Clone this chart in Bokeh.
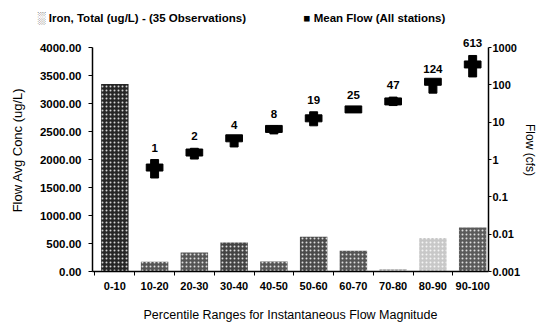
from bokeh.plotting import figure
from bokeh.models import (Range1d, LogScale, LogAxis, FixedTicker, NumeralTickFormatter,
                          CustomJSTickFormatter, ColumnDataSource)
from bokeh.core.properties import value
from bokeh.embed import file_html
from bokeh.resources import INLINE

# ---- data ----
categories = ["0-10", "10-20", "20-30", "30-40", "40-50", "50-60", "60-70", "70-80", "80-90", "90-100"]
iron_conc = [3350, 175, 340, 520, 180, 620, 370, 45, 600, 785]          # ug/L
flow_categories = ["10-20", "20-30", "30-40", "40-50", "50-60", "60-70", "70-80", "80-90", "90-100"]
flow_mean = [1, 2, 4, 8, 19, 25, 47, 124, 613]                           # cfs (labels / top of marker)
flow_low = [0.32, 1.03, 2.17, 4.85, 8.0, 18.6, 27.9, 60, 163]             # bottom of marker
flow_mid = [0.61, 1.54, 3.7, 6.6, 12.7, 22, 36, 121, 352]                 # cross bar of marker
left_ticks = [0, 500, 1000, 1500, 2000, 2500, 3000, 3500, 4000]
right_ticks = [0.001, 0.01, 0.1, 1, 10, 100, 1000]
iron_label = "Iron, Total (ug/L) - (35 Observations)"
flow_label = "Mean Flow (All stations)"

# ---- styles ----
FONT = "Liberation Sans"
bar_fill = ["#262626", "#555555", "#555555", "#444444", "#555555", "#4a4a4a",
            "#555555", "#bbbbbb", "#c8c8c8", "#5a5a5a"]

xpos = [categories.index(c) for c in categories]
flow_x = [categories.index(c) for c in flow_categories]

p = figure(width=540, height=324, output_backend="svg", toolbar_location=None,
           x_range=Range1d(-0.562, 9.398), y_range=Range1d(0, 4340),
           min_border_left=92, min_border_right=49, min_border_top=28, min_border_bottom=52)
p.outline_line_color = None
p.xgrid.visible = False
p.ygrid.visible = False

p.extra_y_ranges = {"flow": Range1d(0.001, 3236)}
p.extra_y_scales = {"flow": LogScale()}

src = ColumnDataSource(dict(x=xpos, top=iron_conc, fill=bar_fill))
p.vbar(x="x", top="top", bottom=0, width=0.69, source=src, fill_color="fill",
       line_color=None, hatch_pattern="dot", hatch_color="white",
       hatch_scale=4, hatch_weight=1.3, hatch_alpha=0.8)

p.vbar(x=flow_x, bottom=flow_low, top=flow_mean, width=0.2, color="black",
       y_range_name="flow")
p.rect(x=flow_x, y=flow_mid, width=0.42, height=7, height_units="screen",
       color="black", y_range_name="flow")
p.text(x=flow_x, y=flow_mean, text=[str(v) for v in flow_mean], y_range_name="flow",
       text_align="center", text_baseline="middle", y_offset=-12,
       text_font=value(FONT), text_font_style="bold", text_font_size="11.5px",
       text_color="black")

# legend line (as the plot title, so it may extend left of the frame)
NB = "\u00a0"
p.title.text = "\u2591" + NB + iron_label + NB * 18 + "\u25a0" + NB + flow_label
p.title.align = "left"
p.title.offset = -55
p.title.standoff = 9
p.title.text_font = FONT
p.title.text_font_style = "bold"
p.title.text_font_size = "11.5px"
p.title.text_color = "black"

# x axis
xa = p.xaxis[0]
xa.ticker = FixedTicker(ticks=xpos, minor_ticks=[i - 0.5 for i in range(len(categories) + 1)])
xa.major_label_overrides = {i: c for i, c in zip(xpos, categories)}
xa.major_tick_out = 0
xa.major_tick_in = 0
xa.minor_tick_out = 4
xa.minor_tick_in = 0
xa.major_label_standoff = 6
xa.axis_label = "Percentile Ranges for Instantaneous Flow Magnitude"
xa.axis_label_standoff = 15

# left axis
ya = p.yaxis[0]
ya.bounds = (0, 4000)
ya.ticker = FixedTicker(ticks=left_ticks)
ya.formatter = NumeralTickFormatter(format="0.00")
ya.major_tick_out = 4
ya.major_tick_in = 0
ya.minor_tick_out = 0
ya.minor_tick_in = 0
ya.major_label_standoff = 7
ya.axis_label = "Flow Avg Conc (ug/L)"
ya.axis_label_standoff = 12

# right axis
ra = LogAxis(y_range_name="flow", bounds=(0.001, 1000), ticker=FixedTicker(ticks=right_ticks),
             formatter=CustomJSTickFormatter(code="return tick.toString()"),
             axis_label="Flow (cfs)")
ra.major_tick_out = 3
ra.major_tick_in = 0
ra.minor_tick_out = 0
ra.minor_tick_in = 0
ra.major_label_standoff = 1
ra.axis_label_standoff = 0
p.add_layout(ra, "right")

for ax in (xa, ya, ra):
    ax.axis_line_color = "black"
    ax.axis_line_width = 1.5
    ax.major_tick_line_color = "black"
    ax.minor_tick_line_color = "black"
    ax.major_label_text_font = FONT
    ax.major_label_text_font_style = "bold"
    ax.major_label_text_font_size = "11px"
    ax.major_label_text_color = "black"
    ax.axis_label_text_font = FONT
    ax.axis_label_text_font_style = "normal"
    ax.axis_label_text_color = "black"
ya.major_label_text_font_size = "11.5px"
xa.axis_label_text_font_size = "12.5px"
ya.axis_label_text_font_size = "13px"
ra.axis_label_text_font_size = "12px"

open("out.html", "w").write(file_html(p, INLINE))
